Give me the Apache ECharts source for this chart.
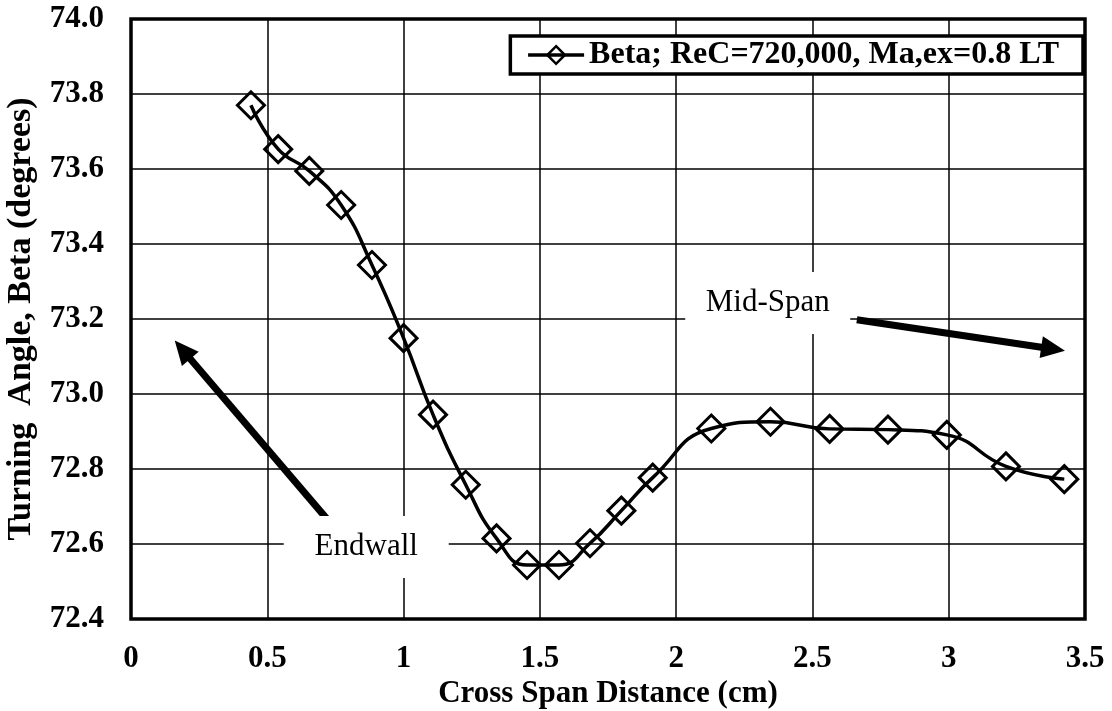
<!DOCTYPE html>
<html>
<head>
<meta charset="utf-8">
<script src="https://cdn.jsdelivr.net/npm/echarts@6/dist/echarts.min.js"></script>
<style>
html,body{margin:0;padding:0;background:#fff;}
#chart{width:1112px;height:711px;}
</style>
</head>
<body>
<div id="chart"></div>
<script>
// Data
const xValues = [0.44, 0.54, 0.654, 0.771, 0.884, 1.0, 1.108, 1.228, 1.341, 1.453, 1.57, 1.684, 1.799, 1.914, 2.129, 2.346, 2.563, 2.777, 2.993, 3.21, 3.424];
const betaValues = [73.77, 73.653, 73.595, 73.504, 73.344, 73.149, 72.945, 72.758, 72.615, 72.544, 72.544, 72.602, 72.689, 72.777, 72.908, 72.926, 72.907, 72.905, 72.891, 72.807, 72.773];
const seriesName = 'Beta; ReC=720,000, Ma,ex=0.8 LT';
const xAxisName = 'Cross Span Distance (cm)';
const yAxisName = 'Turning  Angle, Beta (degrees)';
// Annotations (data coordinates)
const annotationTexts = ['Mid-Span', 'Endwall'];
const annotationPos = [[2.336, 73.243], [0.863, 72.592]];
const arrowStarts = [[2.663, 73.198], [0.721, 72.665]];
const arrowEnds = [[3.383, 73.12], [0.189, 73.118]];

const FONT = '"Liberation Serif", "Times New Roman", serif';
const chart = echarts.init(document.getElementById('chart'));
const points = xValues.map((x, i) => [x, betaValues[i]]);

chart.setOption({
  animation: false,
  backgroundColor: '#fff',
  grid: {left: 131, right: 27, top: 19, bottom: 92, show: true, borderColor: '#000', borderWidth: 3.5, backgroundColor: 'transparent', containLabel: false, outerBoundsMode: 'none'},
  legend: {
    data: [seriesName],
    right: 29, top: 36,
    backgroundColor: '#fff',
    borderColor: '#000', borderWidth: 3.5,
    padding: [3, 24, 3, 16],
    itemWidth: 56, itemHeight: 22, itemGap: 5,
    lineStyle: {width: 3.5, color: '#000'},
    itemStyle: {borderWidth: 2.5, borderColor: '#000', color: 'rgba(255,255,255,0)'},
    textStyle: {fontFamily: FONT, fontWeight: 'bold', fontSize: 32, color: '#000'}
  },
  xAxis: {
    type: 'value', min: 0, max: 3.5, interval: 0.5,
    name: xAxisName, nameLocation: 'middle', nameGap: 55,
    nameTextStyle: {fontFamily: FONT, fontWeight: 'bold', fontSize: 31, color: '#000'},
    axisLine: {show: false}, axisTick: {show: false},
    axisLabel: {fontFamily: FONT, fontWeight: 'bold', fontSize: 31, color: '#000', margin: 24},
    splitLine: {show: true, lineStyle: {color: '#000', width: 1.5}}
  },
  yAxis: {
    type: 'value', min: 72.4, max: 74.0, interval: 0.2,
    name: yAxisName, nameLocation: 'middle', nameGap: 93,
    nameTextStyle: {fontFamily: FONT, fontWeight: 'bold', fontSize: 34, color: '#000'},
    axisLine: {show: false}, axisTick: {show: false},
    axisLabel: {fontFamily: FONT, fontWeight: 'bold', fontSize: 31, color: '#000', margin: 27, formatter: v => v.toFixed(1)},
    splitLine: {show: true, lineStyle: {color: '#000', width: 1.5}}
  },
  series: [{
    name: seriesName,
    type: 'line',
    data: points,
    smooth: 0.5,
    symbol: 'diamond',
    symbolSize: 27,
    lineStyle: {color: '#000', width: 3.5},
    itemStyle: {color: 'rgba(255,255,255,0)', borderColor: '#000', borderWidth: 3},
    z: 3,
    markLine: {
      silent: true,
      symbol: ['none', 'triangle'],
      symbolSize: [22, 24],
      label: {show: false},
      lineStyle: {color: '#000', width: 7, type: 'solid'},
      data: arrowStarts.map((s, i) => [{coord: s}, {coord: arrowEnds[i]}])
    },
    markPoint: {
      silent: true,
      symbol: 'rect',
      symbolSize: [165, 62],
      itemStyle: {color: '#fff', borderWidth: 0},
      label: {show: true, position: 'inside', color: '#000', fontFamily: FONT, fontSize: 31, formatter: p => p.name},
      data: annotationTexts.map((t, i) => ({name: t, coord: annotationPos[i]}))
    }
  }]
});
</script>
</body>
</html>
